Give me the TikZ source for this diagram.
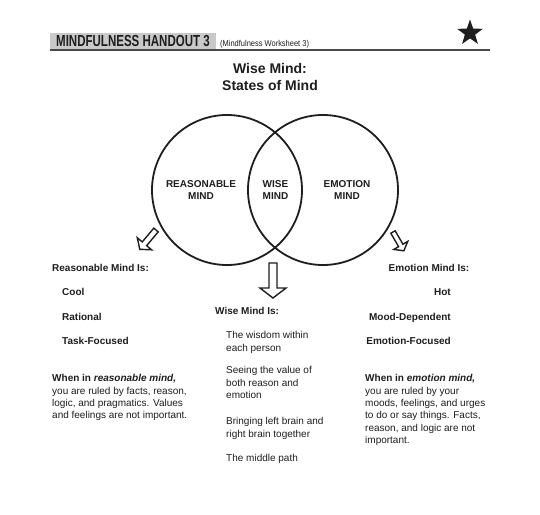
\documentclass[tikz,border=0pt]{standalone}
\usepackage{fontspec}
\setmainfont{Liberation Sans}
\newfontfamily\condfont[FakeStretch=0.72]{Liberation Sans}
\newfontfamily\narrowfont[FakeStretch=0.88]{Liberation Sans}
\usetikzlibrary{shapes.geometric}
\definecolor{ink}{HTML}{1E1E1E}
\definecolor{rulegray}{HTML}{4A4A4A}
\definecolor{bargray}{HTML}{C9C9C9}

% hollow block arrow, pointing down from its tail
\tikzset{downarrow/.pic={
 \draw[draw=ink,line width=1.4pt,fill=white,line join=miter]
 (-4,0) -- (4,0) -- (4,25) -- (13,25) -- (0,35) -- (-13,25) -- (-4,25) -- cycle;}}

\begin{document}
\begin{tikzpicture}[x=1pt,y=-1pt,
 ring/.style={draw=ink,line width=1.8pt,circle,minimum size=150pt,inner sep=0pt},
 circtext/.style={font=\bfseries\fontsize{10}{12.5}\selectfont,align=center,inner sep=0pt,text=ink},
 head/.style={font=\bfseries\fontsize{10}{12}\selectfont,inner sep=0pt,text=ink},
 body/.style={font=\fontsize{10}{12.4}\selectfont,align=left,inner sep=0pt,text=ink}]
 \useasboundingbox[fill=white] (0,0) rectangle (540,514);

 % header strip
 \fill[bargray] (50,33) rectangle (216,50);
 \draw[rulegray,line width=2pt] (50,50) -- (490,50);
 \node[anchor=base west,inner sep=0pt,text=ink,font=\condfont\bfseries\fontsize{16}{16}\selectfont] (handout) at (56,46.5) {MINDFULNESS HANDOUT 3};
 \node[anchor=base west,inner sep=0pt,text=ink,font=\narrowfont\fontsize{8.5}{8.5}\selectfont] (sheet) at (220,46.5) {(Mindfulness Worksheet 3)};
 \node[star,star points=5,star point ratio=2.5,fill=ink,inner sep=0pt,minimum size=27pt] (badge) at (470,33) {};

 \node[font=\bfseries\fontsize{14}{17}\selectfont,align=center,text=ink] (title) at (270,76.5) {Wise Mind:\\States of Mind};

 % the two minds
 \node[ring] (reason) at (227,190) {};
 \node[ring] (emotion) at (323,190) {};
 \node[circtext] (rlabel) at (201,190) {REASONABLE\\MIND};
 \node[circtext] (wlabel) at (275.5,190) {WISE\\MIND};
 \node[circtext] (elabel) at (347,190) {EMOTION\\MIND};

 \pic[rotate=-40,scale=0.72] at (156,230) {downarrow};
 \pic at (273,263) {downarrow};
 \pic[rotate=30,scale=0.62] at (393,232) {downarrow};

 % reasonable mind
 \node[head,anchor=base west] (rhead) at (52,271.5) {Reasonable Mind Is:};
 \node[head,anchor=base west] (cool) at (62,295.5) {Cool};
 \node[head,anchor=base west] (rational) at (62,320.5) {Rational};
 \node[head,anchor=base west] (task) at (62,344.5) {Task-Focused};
 \node[body,anchor=north west] (rtext) at (52,374.3) {{\bfseries When in \textit{reasonable mind,}}\\
 you are ruled by facts, reason,\\logic, and pragmatics. Values\\and feelings are not important.};

 % wise mind
 \node[head,anchor=base west] (whead) at (215,314.5) {Wise Mind Is:};
 \node[body,anchor=north west] (wisdom) at (226,331.3) {The wisdom within\\each person};
 \node[body,anchor=north west] (value) at (226,366.3) {Seeing the value of\\both reason and\\emotion};
 \node[body,anchor=north west] (brain) at (226,417.3) {Bringing left brain and\\right brain together};
 \node[body,anchor=base west] (path) at (226,461.5) {The middle path};

 % emotion mind
 \node[head,anchor=base] (ehead) at (429,271.5) {Emotion Mind Is:};
 \node[head,anchor=base east] (hot) at (451,295.5) {Hot};
 \node[head,anchor=base east] (mood) at (451,320.5) {Mood-Dependent};
 \node[head,anchor=base east] (focus) at (451,344.5) {Emotion-Focused};
 \node[body,anchor=north west] (etext) at (365,374.3) {{\bfseries When in \textit{emotion mind,}}\\
 you are ruled by your\\moods, feelings, and urges\\to do or say things. Facts,\\reason, and logic are not\\important.};
\end{tikzpicture}
\end{document}
